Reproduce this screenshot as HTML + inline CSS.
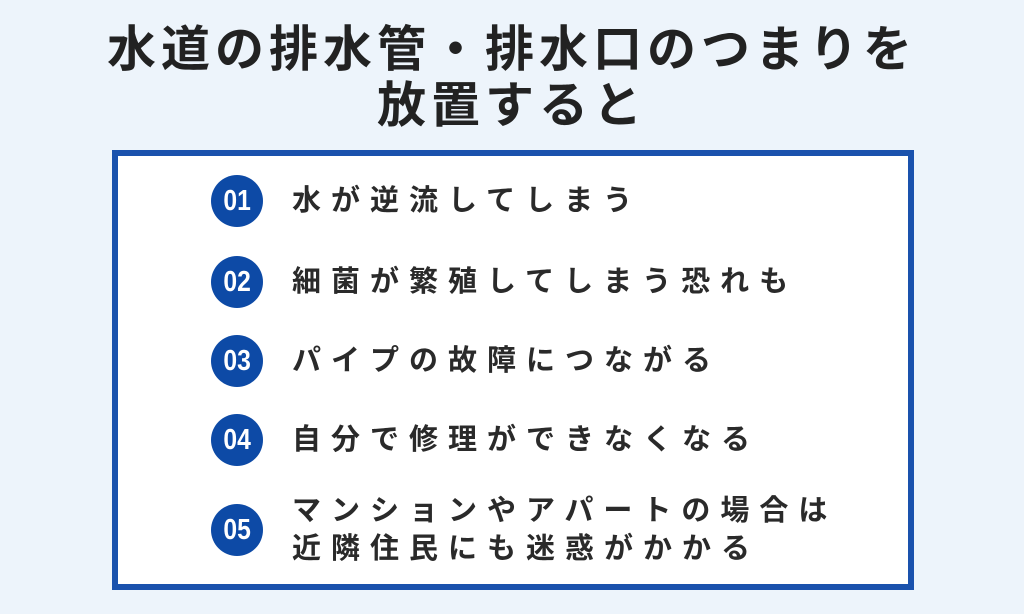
<!DOCTYPE html>
<html><head><meta charset="utf-8"><style>
body{margin:0;width:1024px;height:614px;background:#edf4fb;font-family:"Liberation Sans","Noto Sans CJK JP",sans-serif;position:relative;overflow:hidden;color:#222}
.t{position:absolute;left:0;width:1024px;text-align:center;font-size:49px;font-weight:bold;letter-spacing:5px;line-height:56px}
.box{position:absolute;left:112px;top:150px;width:790px;height:428px;border:6px solid #1a52ad;background:#fff}
.c{position:absolute;left:211px;width:52px;height:52px;border-radius:50%;background:#0d4aa6;color:#fff;font-weight:bold;font-size:29px;line-height:52px;text-align:center;letter-spacing:0}
.c span{display:inline-block;transform:scaleX(0.85)}
.i{position:absolute;left:292px;font-size:29px;letter-spacing:10px;line-height:38px;font-weight:bold;color:#2a2a2a}
</style></head><body>
<div class="t" style="top:22px">水道の排水管・排水口のつまりを</div>
<div class="t" style="top:78px">放置すると</div>
<div class="box"></div>
<div class="c" style="top:175px"><span>01</span></div><div class="i" style="top:182px">水が逆流してしまう</div>
<div class="c" style="top:256px"><span>02</span></div><div class="i" style="top:263px">細菌が繁殖してしまう恐れも</div>
<div class="c" style="top:335px"><span>03</span></div><div class="i" style="top:342px">パイプの故障につながる</div>
<div class="c" style="top:414px"><span>04</span></div><div class="i" style="top:421px">自分で修理ができなくなる</div>
<div class="c" style="top:504px"><span>05</span></div><div class="i" style="top:492px">マンションやアパートの場合は<br>近隣住民にも迷惑がかかる</div>
</body></html>
